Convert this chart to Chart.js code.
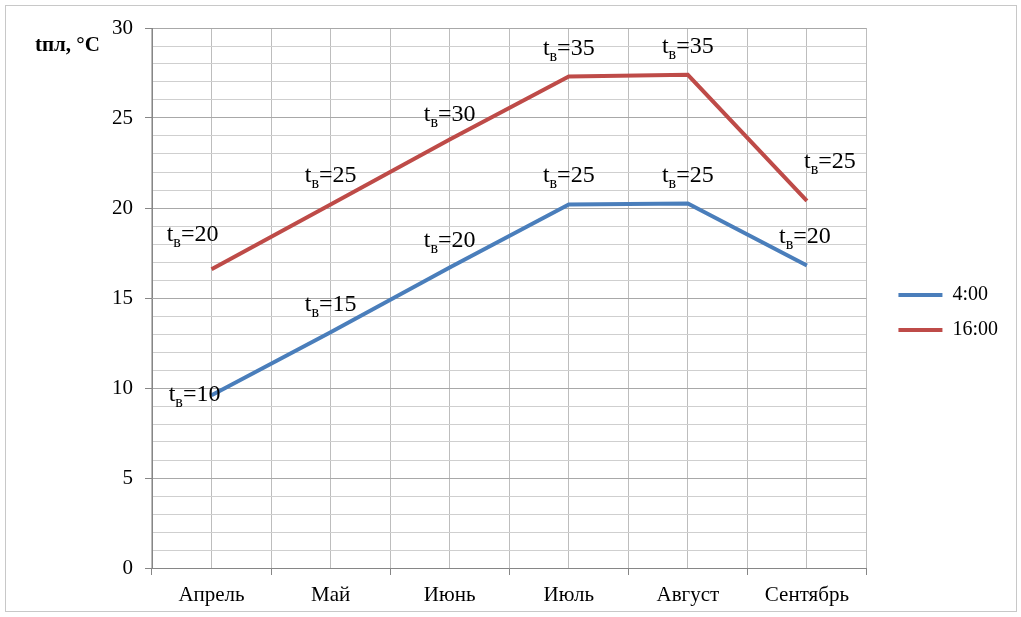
<!DOCTYPE html>
<html>
<head>
<meta charset="utf-8">
<title>Температура поверхности</title>
<script src="https://cdn.jsdelivr.net/npm/chart.js@4"></script>
<style>
  html, body { margin: 0; padding: 0; background: #fff; }
  #wrap { position: relative; width: 1021px; height: 617px; }
  #frame { position: absolute; left: 5px; top: 5px; width: 1012px; height: 607px;
           border: 1px solid #c8c8c8; box-sizing: border-box; }
  #c { position: absolute; left: 0; top: 0; }
</style>
</head>
<body>
<div id="wrap">
  <div id="frame"></div>
  <canvas id="c" width="1021" height="617"></canvas>
</div>
<script>
// Месяцы тёплого периода
const months = ['Апрель', 'Май', 'Июнь', 'Июль', 'Август', 'Сентябрь'];
// Температура поверхности, °C
const surface4 = [9.6, 13.1, 16.7, 20.2, 20.25, 16.8];   // 4:00
const surface16 = [16.6, 20.2, 23.8, 27.3, 27.4, 20.4];  // 16:00
// Температура воздуха tв для подписей точек
const air4 = [10, 15, 20, 25, 25, 20];
const air16 = [20, 25, 30, 35, 35, 25];
const seriesNames = ['4:00', '16:00'];

// Сдвиги подписей относительно точек (px)
const labelShift4 = [[-17, 6], [0, -21], [0, -20], [0, -22], [0, -22], [-2, -23]];
const labelShift16 = [[-19, -28], [0, -22], [0, -19], [0, -22], [0, -22], [23, -33]];

const SERIF = '"Liberation Serif", "Times New Roman", serif';
const BLUE = '#4A7EBB';
const RED = '#BE4B48';

// Подписи вида t_в=NN
const airLabels = {
  id: 'airLabels',
  afterDatasetsDraw(chart) {
    const ctx = chart.ctx;
    const sets = [[air4, labelShift4], [air16, labelShift16]];
    ctx.save();
    ctx.fillStyle = '#000';
    ctx.textBaseline = 'alphabetic';
    ctx.textAlign = 'left';
    sets.forEach(([vals, shifts], di) => {
      const meta = chart.getDatasetMeta(di);
      meta.data.forEach((pt, i) => {
        const main = '24px ' + SERIF, sub = '16px ' + SERIF;
        ctx.font = main;
        const wt = ctx.measureText('t').width;
        const rest = '=' + vals[i];
        const wr = ctx.measureText(rest).width;
        ctx.font = sub;
        const ws = ctx.measureText('в').width;
        const total = wt + ws + wr;
        let x = pt.x + shifts[i][0] - total / 2;
        const y = pt.y + shifts[i][1];
        ctx.font = main;
        ctx.fillText('t', x, y);
        x += wt;
        ctx.font = sub;
        ctx.fillText('в', x, y + 6);
        x += ws;
        ctx.font = main;
        ctx.fillText(rest, x, y);
      });
    });
    ctx.restore();
  }
};

// Подпись оси значений
const axisCaption = {
  id: 'axisCaption',
  afterDraw(chart) {
    const ctx = chart.ctx;
    ctx.save();
    ctx.font = 'bold 21px ' + SERIF;
    ctx.fillStyle = '#000';
    ctx.textBaseline = 'alphabetic';
    ctx.fillText('tпл, °C', 35, 51);
    ctx.restore();
  }
};

new Chart(document.getElementById('c'), {
  type: 'line',
  data: {
    labels: months,
    datasets: [
      { label: seriesNames[0], data: surface4, borderColor: BLUE, backgroundColor: BLUE,
        borderWidth: 4, pointRadius: 0, tension: 0, fill: false },
      { label: seriesNames[1], data: surface16, borderColor: RED, backgroundColor: RED,
        borderWidth: 4, pointRadius: 0, tension: 0, fill: false }
    ]
  },
  options: {
    responsive: false,
    animation: false,
    events: [],
    layout: { padding: { left: 0, top: 28, right: 13, bottom: 0 } },
    plugins: {
      tooltip: { enabled: false },
      legend: {
        position: 'right',
        align: 'start',
        // пустой заголовок задаёт вертикальный отступ легенды
        title: { display: true, text: '', font: { size: 10 }, padding: { top: 230, bottom: 0 } },
        labels: {
          usePointStyle: true,
          pointStyle: 'line',
          pointStyleWidth: 44,
          padding: 15,
          color: '#000',
          font: { family: SERIF, size: 20 }
        }
      }
    },
    scales: {
      x: {
        type: 'category',
        offset: true,
        grid: { offset: true, color: '#bdbdbd', tickLength: 7, tickColor: '#868686' },
        border: { color: '#868686' },
        ticks: { color: '#000', padding: 8, font: { family: SERIF, size: 21 }, maxRotation: 0 },
        afterFit(s) { s.height = 49; }
      },
      xMid: {
        type: 'category',
        position: 'bottom',
        offset: true,
        grid: { offset: false, color: '#bdbdbd', drawTicks: false },
        border: { display: false },
        ticks: { display: false },
        afterFit(s) { s.height = 0; }
      },
      y: {
        min: 0, max: 30,
        ticks: { stepSize: 5, color: '#000', padding: 12, font: { family: SERIF, size: 21 } },
        grid: { color: '#a8a8a8', tickLength: 7, tickColor: '#868686' },
        border: { color: '#868686' },
        afterFit(s) { s.width = 152; }
      },
      yMinor: {
        position: 'right',
        min: 0, max: 30,
        ticks: { stepSize: 1, display: false },
        grid: {
          drawTicks: false,
          color: (c) => (c.tick && c.tick.value % 5 === 0) ? 'rgba(0,0,0,0)' : '#cfcfcf'
        },
        border: { display: false },
        afterFit(s) { s.width = 17; }
      }
    }
  },
  plugins: [airLabels, axisCaption]
});
</script>
</body>
</html>
